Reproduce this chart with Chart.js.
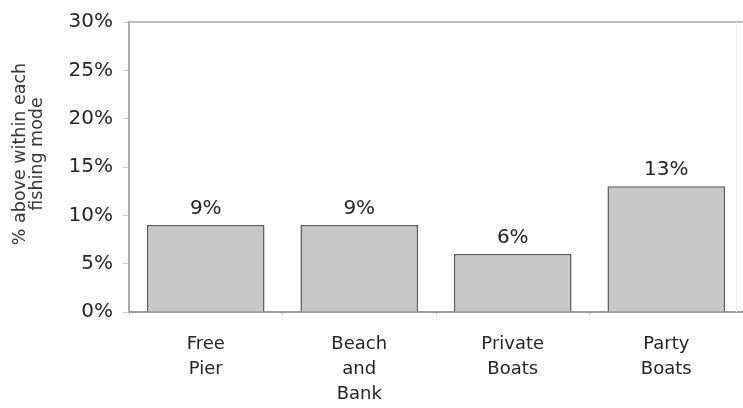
<!DOCTYPE html>
<html>
<head>
<meta charset="utf-8">
<script src="https://cdn.jsdelivr.net/npm/chart.js@4"></script>
<style>
  html, body { margin: 0; padding: 0; background: #fff; }
  #wrap { width: 743px; height: 408px; }
</style>
</head>
<body>
<div id="wrap"><canvas id="chart" width="743" height="408"></canvas></div>
<script>
const categories = [['Free', 'Pier'], ['Beach', 'and', 'Bank'], ['Private', 'Boats'], ['Party', 'Boats']];
const values = [9, 9, 6, 13];
const yTitle = ['% above within each', 'fishing mode'];

const FONT = '"DejaVu Sans", Verdana, sans-serif';

// labels over the bars
const barLabels = {
  id: 'barLabels',
  afterDatasetsDraw(chart) {
    const ctx = chart.ctx;
    const meta = chart.getDatasetMeta(0);
    ctx.save();
    ctx.font = '20px ' + FONT;
    ctx.fillStyle = '#262626';
    ctx.textAlign = 'center';
    ctx.textBaseline = 'alphabetic';
    meta.data.forEach((bar, i) => {
      ctx.fillText(values[i] + '%', bar.x, bar.y - 11);
    });
    ctx.restore();
  }
};

// top/right frame and the rotated y title
const frame = {
  id: 'frame',
  beforeDatasetsDraw(chart) {
    const { ctx, chartArea: a } = chart;
    ctx.save();
    ctx.strokeStyle = '#bdbdbd';
    ctx.lineWidth = 2;
    ctx.beginPath();
    ctx.moveTo(a.left, a.top);
    ctx.lineTo(a.right, a.top);
    ctx.stroke();
    ctx.strokeStyle = '#eeeeee';
    ctx.lineWidth = 1;
    ctx.beginPath();
    ctx.moveTo(a.right - 6.5, a.top);
    ctx.lineTo(a.right - 6.5, a.bottom);
    ctx.stroke();
    ctx.restore();
  },
  afterDraw(chart) {
    const ctx = chart.ctx;
    ctx.save();
    ctx.translate(29, 154);
    ctx.rotate(-Math.PI / 2);
    ctx.font = '17.5px ' + FONT;
    ctx.fillStyle = '#363636';
    ctx.textAlign = 'center';
    ctx.textBaseline = 'middle';
    ctx.fillText(yTitle[0], 0, -9);
    ctx.fillText(yTitle[1], 0, 8);
    ctx.restore();
  }
};

new Chart(document.getElementById('chart').getContext('2d'), {
  type: 'bar',
  data: {
    labels: categories,
    datasets: [{
      data: values,
      backgroundColor: '#c8c8c8',
      borderColor: '#5a5a5a',
      borderWidth: 1.5,
      categoryPercentage: 1,
      barPercentage: 0.766
    }]
  },
  options: {
    responsive: false,
    animation: false,
    layout: { padding: { top: 22, right: 0, left: 0, bottom: 0 } },
    plugins: { legend: { display: false }, tooltip: { enabled: false } },
    scales: {
      x: {
        afterFit: s => { s.height = 96; },
        grid: { drawOnChartArea: false, offset: true, tickLength: 4, color: '#dddddd' },
        border: { color: '#999999', width: 2 },
        ticks: {
          color: '#262626',
          padding: 16,
          maxRotation: 0,
          font: { family: FONT, size: 18, lineHeight: 1.38 }
        }
      },
      y: {
        min: 0,
        max: 30,
        afterFit: s => { s.width = 129; },
        grid: { drawOnChartArea: false, tickLength: 6, color: '#cccccc' },
        border: { color: '#aaaaaa', width: 2 },
        ticks: {
          stepSize: 5,
          color: '#262626',
          padding: 10,
          font: { family: FONT, size: 20 },
          callback: v => v + '%'
        }
      }
    }
  },
  plugins: [barLabels, frame]
});
</script>
</body>
</html>
